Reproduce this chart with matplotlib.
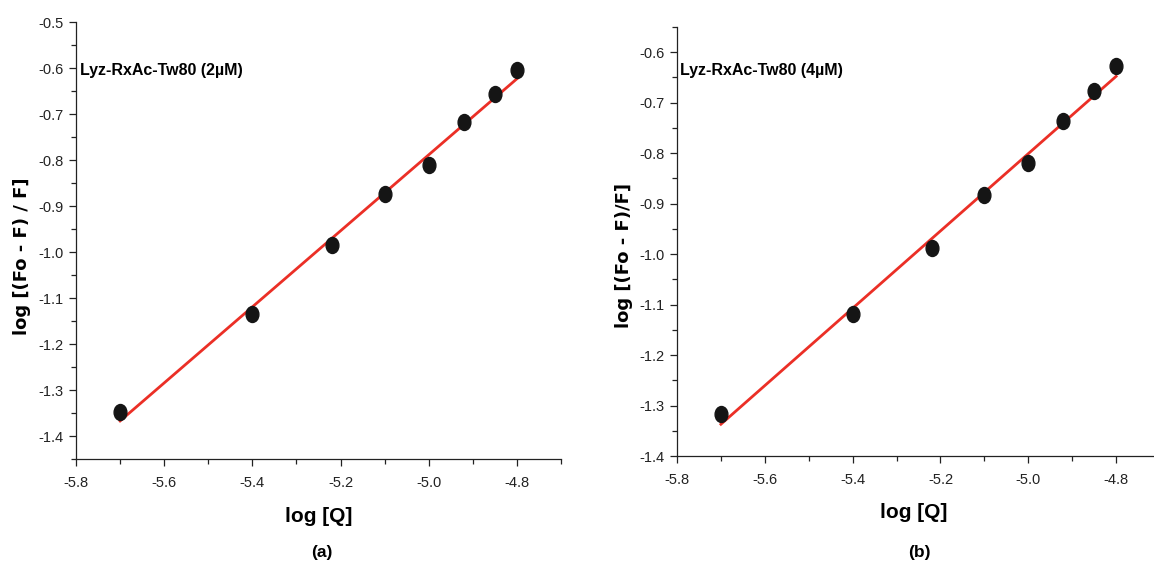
import matplotlib
matplotlib.use('Agg')
import matplotlib.pyplot as plt
from matplotlib.path import Path
from matplotlib.transforms import Affine2D
from matplotlib.ticker import MultipleLocator
import numpy as np

# quencher concentration (log) and Stern-Volmer double-log response
log_q = [-5.70, -5.40, -5.22, -5.10, -5.00, -4.92, -4.85, -4.80]
resp_2um = [-1.347, -1.134, -0.984, -0.873, -0.810, -0.718, -0.657, -0.605]
resp_4um = [-1.316, -1.119, -0.987, -0.883, -0.820, -0.737, -0.676, -0.628]

labels = ['Lyz-RxAc-Tw80 (2\u00b5M)', 'Lyz-RxAc-Tw80 (4\u00b5M)']
ylabels = ['log [(Fo - F) / F]', 'log [(Fo - F)/F]']
panels = ['(a)', '(b)']

W, H = 1154, 564
fig = plt.figure(figsize=(W / 100, H / 100), dpi=100)

# slightly tall elliptical dot
dot = Affine2D().scale(0.8, 1.0).transform_path(Path.unit_circle())


def box(l, t, r, b):
    return [l / W, 1 - b / H, (r - l) / W, (b - t) / H]


specs = [
    dict(rect=box(76, 22, 561, 459), ylim=(-1.45, -0.5), data=resp_2um,
         ylab_x=22, xlab=(319, 516), panel=(322, 552), note=(80, 70)),
    dict(rect=box(677, 27, 1160, 456), ylim=(-1.4, -0.55), data=resp_4um,
         ylab_x=624, xlab=(914, 513), panel=(919, 552), note=(680, 70)),
]

for i, s in enumerate(specs):
    ax = fig.add_axes(s['rect'])
    ax.patch.set_alpha(0)
    y = np.asarray(s['data'])
    x = np.asarray(log_q)
    slope, icpt = np.polyfit(x, y, 1)
    xf = np.array([x.min(), x.max()])
    ax.plot(xf, slope * xf + icpt, color='#eb2f26', lw=2.0, zorder=2)
    ax.plot(x, y, linestyle='none', marker=dot, color='#151515', ms=11.5, zorder=3)

    ax.set_xlim(-5.8, -4.7)
    ax.set_ylim(*s['ylim'])
    ax.xaxis.set_major_locator(MultipleLocator(0.2))
    ax.xaxis.set_minor_locator(MultipleLocator(0.1))
    ax.yaxis.set_major_locator(MultipleLocator(0.1))
    ax.yaxis.set_minor_locator(MultipleLocator(0.05))
    ax.xaxis.set_major_formatter(plt.FuncFormatter(lambda v, p: '%.1f' % v))
    ax.yaxis.set_major_formatter(plt.FuncFormatter(lambda v, p: '%.1f' % v))
    for side in ('top', 'right'):
        ax.spines[side].set_visible(False)
    for side in ('left', 'bottom'):
        ax.spines[side].set_linewidth(0.9)
        ax.spines[side].set_color('#222222')
    ax.tick_params(which='major', direction='out', length=5, width=0.9,
                   color='#222222', labelsize=10.5, pad=4)
    ax.tick_params(which='minor', direction='out', length=3.5, width=0.9,
                   color='#222222')
    ax.tick_params(axis='x', which='major', pad=7)
    for lab in ax.get_xticklabels() + ax.get_yticklabels():
        lab.set_family('Liberation Sans')
        lab.set_color('#222222')

    fig.text(s['ylab_x'] / W, 1 - 256 / H, ylabels[i], rotation=90,
             family='DejaVu Sans', weight='bold', fontsize=13,
             ha='center', va='center')
    fig.text(s['xlab'][0] / W, 1 - s['xlab'][1] / H, 'log [Q]',
             family='Liberation Sans', weight='bold', fontsize=15,
             ha='center', va='center')
    fig.text(s['panel'][0] / W, 1 - s['panel'][1] / H, panels[i],
             family='Liberation Sans', weight='bold', fontsize=12.5,
             ha='center', va='center')
    fig.text(s['note'][0] / W, 1 - s['note'][1] / H, labels[i],
             family='Liberation Sans', weight='bold', fontsize=11.5,
             ha='left', va='center')

fig.savefig('out.png', dpi=100)
